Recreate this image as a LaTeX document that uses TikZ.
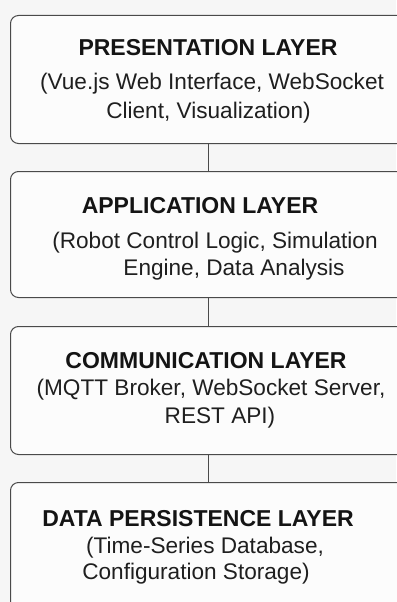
\documentclass[tikz,border=0pt]{standalone}
\usepackage{fontspec}
\setmainfont{Liberation Sans}
\definecolor{pagebg}{HTML}{F6F6F6}
\definecolor{boxbg}{HTML}{FCFCFC}
\definecolor{edge}{HTML}{4A4A4A}
\begin{document}
\begin{tikzpicture}[x=1pt,y=-1pt,
  layer/.style={draw=edge, line width=1pt, fill=boxbg, rounded corners=8pt,
    minimum width=396pt, anchor=north west, inner sep=0pt},
  heading/.style={anchor=base, inner sep=0pt,
    font=\fontsize{23}{27}\selectfont\bfseries, text=black!92},
  detail/.style={anchor=base, inner sep=0pt,
    font=\fontsize{22.6}{27}\selectfont, text=black!88},
  link/.style={draw=edge, line width=1pt}]
% page
\fill[pagebg] (0,0) rectangle (396,602);
\useasboundingbox (0,0) rectangle (396,602);

% layer boxes
\node[layer, minimum height=128pt] (pres) at (10,15)  {};
\node[layer, minimum height=126pt] (app)  at (10,171) {};
\node[layer, minimum height=128pt] (comm) at (10,326) {};
\node[layer, minimum height=160pt] (data) at (10,482) {};

% links between layers
\draw[link] (pres.south) -- (app.north);
\draw[link] (app.south)  -- (comm.north);
\draw[link] (comm.south) -- (data.north);

% presentation layer
\node[heading] (presT) at (208,56)  {PRESENTATION LAYER};
\node[detail]  (presA) at (212,89)  {(Vue.js Web Interface, WebSocket};
\node[detail]  (presB) at (208.5,118) {Client, Visualization)};

% application layer
\node[heading] (appT) at (200,213) {APPLICATION LAYER};
\node[detail]  (appA) at (215,248) {(Robot Control Logic, Simulation};
\node[detail]  (appB) at (234,275) {Engine, Data Analysis};

% communication layer
\node[heading] (commT) at (206,368) {COMMUNICATION LAYER};
\node[detail]  (commA) at (211,395) {(MQTT Broker, WebSocket Server,};
\node[detail]  (commB) at (220,423) {REST API)};

% data persistence layer
\node[heading] (dataT) at (198,526) {DATA PERSISTENCE LAYER};
\node[detail]  (dataA) at (205,553) {(Time-Series Database,};
\node[detail]  (dataB) at (196,579) {Configuration Storage)};
\end{tikzpicture}
\end{document}
